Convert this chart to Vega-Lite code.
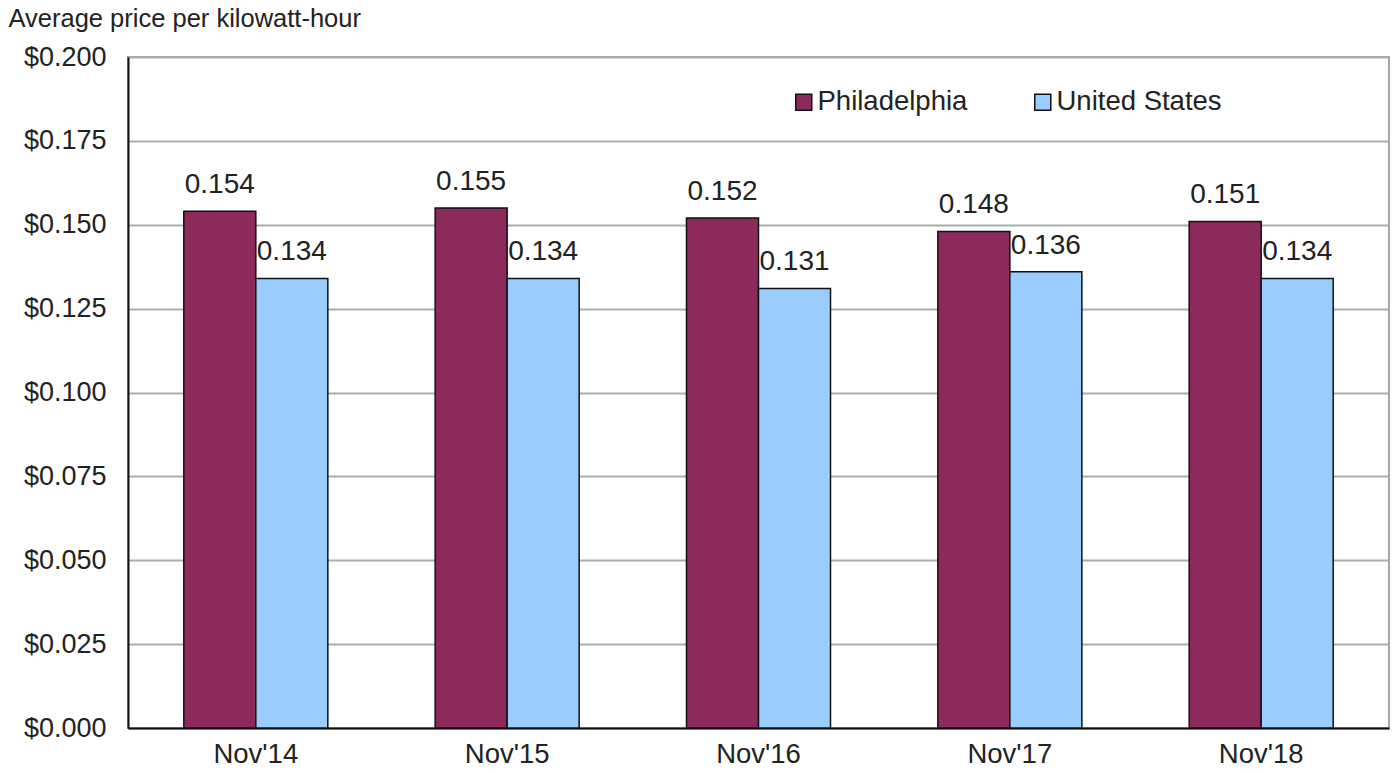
{
  "$schema": "https://vega.github.io/schema/vega-lite/v6.json",
  "width": 1261,
  "height": 671,
  "autosize": {"type": "none"},
  "padding": {"left": 128, "top": 57, "right": 6, "bottom": 45},
  "background": "white",
  "config": {
    "font": "Liberation Sans",
    "view": {"stroke": "#a0a8a0", "strokeWidth": 2},
    "axis": {"labelColor": "#222", "titleColor": "#222"}
  },
  "data": {
    "values": [
      {"period": "Nov'14", "area": "Philadelphia", "price": 0.154},
      {"period": "Nov'14", "area": "United States", "price": 0.134},
      {"period": "Nov'15", "area": "Philadelphia", "price": 0.155},
      {"period": "Nov'15", "area": "United States", "price": 0.134},
      {"period": "Nov'16", "area": "Philadelphia", "price": 0.152},
      {"period": "Nov'16", "area": "United States", "price": 0.131},
      {"period": "Nov'17", "area": "Philadelphia", "price": 0.148},
      {"period": "Nov'17", "area": "United States", "price": 0.136},
      {"period": "Nov'18", "area": "Philadelphia", "price": 0.151},
      {"period": "Nov'18", "area": "United States", "price": 0.134}
    ]
  },
  "encoding": {
    "x": {
      "field": "period",
      "type": "nominal",
      "sort": null,
      "scale": {"paddingInner": 0.427, "paddingOuter": 0.222},
      "axis": {
        "title": null,
        "labelAngle": 0,
        "labelFontSize": 27.5,
        "labelPadding": 12,
        "ticks": false,
        "domainColor": "#111",
        "domainWidth": 2
      }
    },
    "xOffset": {"field": "area", "type": "nominal", "scale": {"paddingInner": 0, "paddingOuter": 0}},
    "y": {
      "field": "price",
      "type": "quantitative",
      "scale": {"domain": [0, 0.2], "nice": false},
      "axis": {
        "title": "Average price per kilowatt-hour",
        "titleAngle": 0,
        "titleAlign": "left",
        "titleBaseline": "alphabetic",
        "titleX": -120,
        "titleY": -31,
        "titleFontSize": 25.5,
        "titleFontWeight": "normal",
        "format": "$.3f",
        "values": [0, 0.025, 0.05, 0.075, 0.1, 0.125, 0.15, 0.175, 0.2],
        "labelFontSize": 27,
        "labelPadding": 22,
        "ticks": false,
        "domainColor": "#111",
        "domainWidth": 2,
        "gridColor": "#a8aea8",
        "gridWidth": 2
      }
    }
  },
  "layer": [
    {
      "mark": {"type": "bar", "stroke": "#111", "strokeWidth": 1.5},
      "encoding": {
        "color": {
          "field": "area",
          "type": "nominal",
          "scale": {"domain": ["Philadelphia", "United States"], "range": ["#8c2a5c", "#99ccff"]},
          "legend": {
            "title": null,
            "orient": "none",
            "legendX": 662,
            "legendY": 31,
            "direction": "horizontal",
            "columns": 2,
            "columnPadding": 61,
            "symbolType": "square",
            "symbolSize": 256,
            "symbolStrokeColor": "#111",
            "symbolStrokeWidth": 1.5,
            "symbolOpacity": 1,
            "labelFontSize": 27.5,
            "labelLimit": 400,
            "labelColor": "#222",
            "labelOffset": 0
          }
        }
      }
    },
    {
      "mark": {"type": "text", "baseline": "alphabetic", "dy": -18, "fontSize": 28, "color": "#222"},
      "encoding": {"text": {"field": "price", "type": "quantitative", "format": ".3f"}}
    }
  ]
}
